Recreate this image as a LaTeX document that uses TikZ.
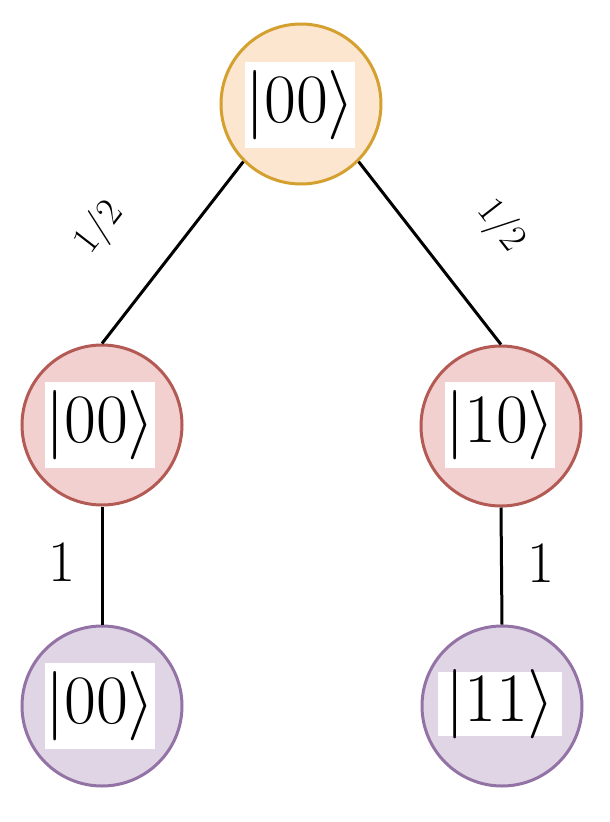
\documentclass[tikz,border=0pt]{standalone}
\usepackage{fix-cm}
\definecolor{orfill}{HTML}{FCE6D0}
\definecolor{ordraw}{HTML}{D4A030}
\definecolor{rdfill}{HTML}{F2D0CF}
\definecolor{rddraw}{HTML}{B35A55}
\definecolor{pufill}{HTML}{E0D5E5}
\definecolor{pudraw}{HTML}{9373A5}
\tikzset{
  state/.style={circle, draw=#1draw, fill=#1fill, line width=2.25pt,
    minimum size=120pt, inner sep=0pt},
  ket/.style={fill=white, inner xsep=0pt, inner ysep=6.4pt,
    font=\fontsize{52}{60}\selectfont},
  link/.style={line width=2.25pt},
  prob/.style={inner sep=0pt, font=\fontsize{29}{34}\selectfont},
  weight/.style={inner sep=0pt, font=\fontsize{44}{52}\selectfont}
}
\begin{document}
\begin{tikzpicture}[x=0.75pt,y=-0.75pt]
  \useasboundingbox (0,0) rectangle (610,822);

  % tree of states
  \node[state=or] (t)  at (301,104) {};
  \node[state=rd] (l)  at (102,425) {};
  \node[state=rd] (r)  at (501,426) {};
  \node[state=pu] (bl) at (102,706) {};
  \node[state=pu] (br) at (502,706) {};

  % ket labels on white plates
  \node[ket] (tk)  at (300,105) {$|00\rangle$};
  \node[ket] (lk)  at (100,425) {$|00\rangle$};
  \node[ket] (rk)  at (500,425) {$|10\rangle$};
  \node[ket] (blk) at (100,706) {$|00\rangle$};
  \node[ket, inner xsep=5.5pt, inner ysep=0pt, text height=36.75pt,
        text depth=11.25pt] (brk) at (500,704) {$|11\rangle$};

  % branches with probabilities
  \draw[link] (l.north) -- node[prob, pos=0.39, sloped, above=39pt] (pl) {$1/2$} (t.south west);
  \draw[link] (t.south east) -- node[prob, pos=0.595, sloped, above=39pt] (pr) {$1/2$} (r.north);
  \draw[link] (l.south) -- node[weight, midway, left=18.7pt, yshift=2pt] (wl) {$1$} (bl.north);
  \draw[link] (r.south) -- node[weight, midway, right=18.7pt, yshift=2pt] (wr) {$1$} (br.north);
\end{tikzpicture}
\end{document}
